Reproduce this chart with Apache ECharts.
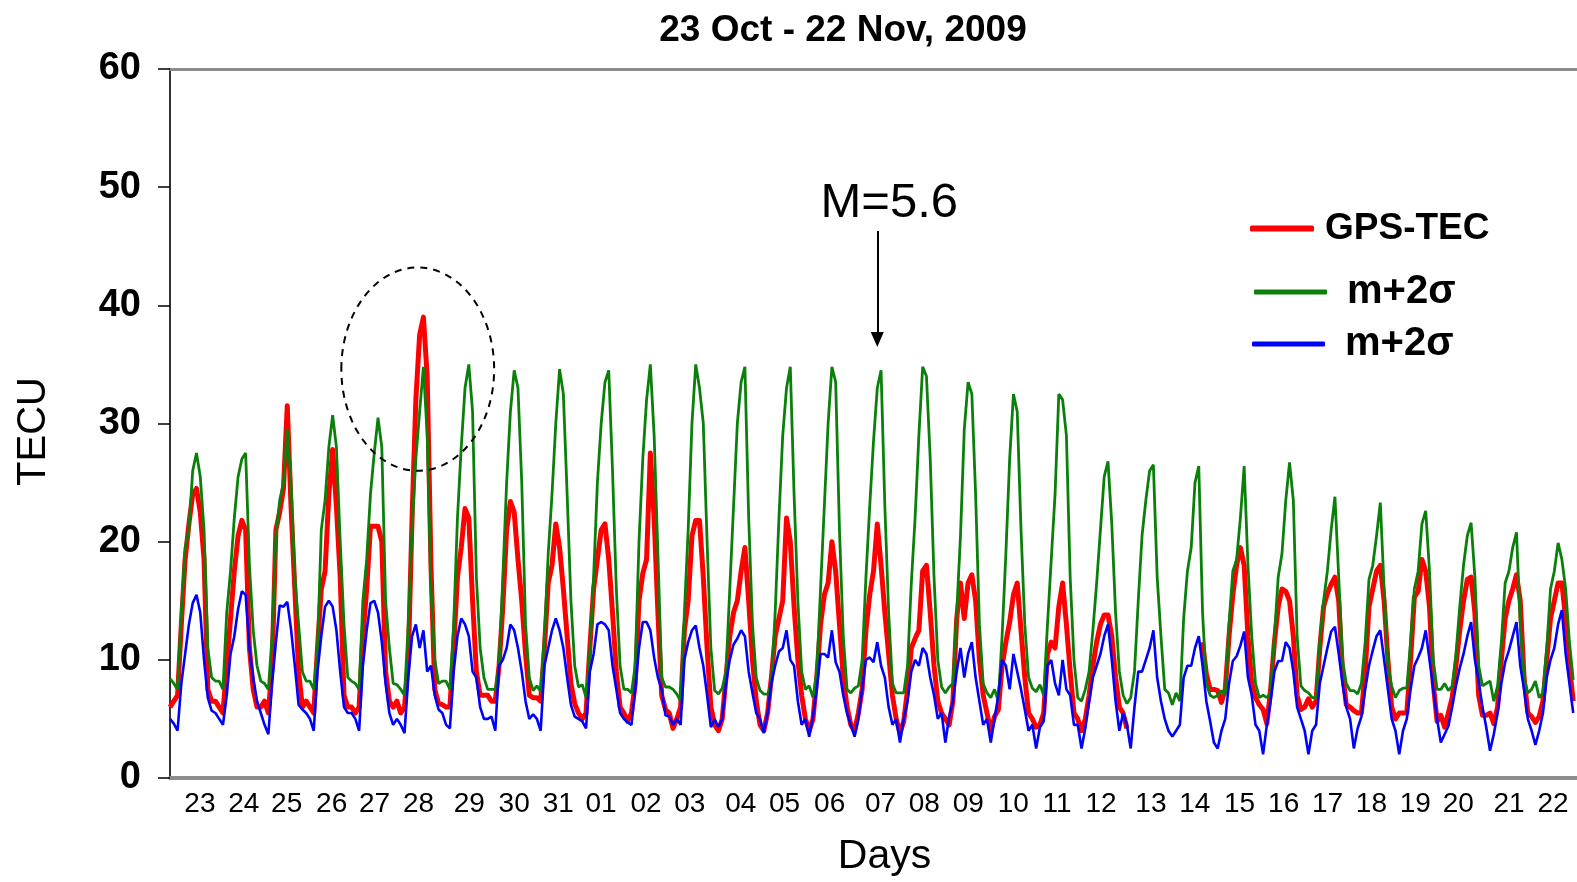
<!DOCTYPE html>
<html>
<head>
<meta charset="utf-8">
<script src="https://cdn.jsdelivr.net/npm/echarts/dist/echarts.min.js"></script>
<style>
html,body{margin:0;padding:0;background:#fff;}
#chart{width:1577px;height:882px;}
</style>
</head>
<body>
<div id="chart"></div>
<script>
// ---------- DATA ----------
const titleText = '23 Oct - 22 Nov, 2009';
const dayLabels = ['23','24','25','26','27','28','29','30','31','01','02','03','04','05','06','07','08','09','10','11','12','13','14','15','16','17','18','19','20','21','22'];
// hour (from 00 h, 23 Oct) at which each day label is printed
const labelHours = [15.8,39.0,61.7,85.5,108.2,131.4,158.3,182.0,205.3,227.9,251.7,274.9,301.8,325.0,348.8,375.7,398.9,422.1,445.9,469.1,492.3,518.7,541.9,565.6,588.9,612.1,635.3,658.5,681.2,708.1,731.3];
const yTicks = [0,10,20,30,40,50,60];
const stepHours = 2; // one sample every 2 hours, 12 per day

// GPS-TEC (red), 12 values per day
const tec = [
  6,6.5,7,13,18.5,21.5,24,24.5,22.5,18.5,7.5,6.5,          // 23
  6.5,6,5.5,9.5,13.5,17.5,20.5,21.8,21,11,7.5,6,           // 24
  6,6.5,5.5,9.5,21,22.5,24.5,31.5,23,16,9,6,               // 25
  6.5,6,5.5,11,16,17.5,24,27.8,23,17,7,6,                  // 26
  6,5.5,6,12,16,21.3,21.3,21.3,20,9,6.5,6,                 // 27
  6.5,5.5,6,10,22,32,37.5,39,34,18,7.5,6.3,                // 28
  6.2,6,6,11,17,19.5,22.8,22,15,9,7,7,                     // 29
  7,6.5,6.5,9.5,14.5,21,23.4,22.5,18.5,15,10.5,7,          // 30
  6.8,6.8,6.5,11,16.5,18,21.5,19.5,16,12,8,6.3,            // 31
  5.5,5,5.5,11,16,18.5,21,21.5,18.5,14,9,6,                // 01
  5.5,4.8,5.5,8,15,17.3,18.5,27.5,22,14,7,5.8,             // 02
  5.5,4.2,5,6,12.5,15,20.5,21.8,21.8,17,11,6,              // 03
  4.5,4,5,8.5,12,14,15,17.5,19.5,15,10,6.5,                // 04
  4.5,4,5.5,8.5,12,13.5,15,22,20,14.5,10,7,                // 05
  5,4,5,8.5,13,15.5,16.5,20,17.5,13,8.5,6,                 // 06
  4.5,4,5.5,7.5,12.5,15.5,17.5,21.5,18,14,10.5,7,          // 07
  5,3.8,4.8,7.5,11,11.8,12.5,17.5,18,14,9.5,6.5,           // 08
  5.5,5,4.5,6.5,13.5,16.5,13.5,16.5,17.2,15,10,7,          // 09
  5.5,4,5.2,5.8,9.5,11.5,13.2,15.5,16.5,12.5,8.5,5.5,      // 10
  5,4.3,4.5,5.5,10.5,11.5,11,14.5,16.5,13,9,5.5,           // 11
  5,4,5,7,9.5,11.5,13,13.8,13.8,12,8.5,6,                  // 12
  5.5,4.2,null,null,null,null,null,null,null,null,null,null, // 13
  null,null,null,null,null,null,null,null,null,11.5,8.8,7.5, // 14
  7.5,7.4,6.4,7.5,12,15.5,18,19.5,18,12,8,6.8,             // 15
  6.2,5.8,4.6,7.5,11.5,14.5,16,15.8,15,12,7,5.8,           // 16
  6,6.7,6,6.5,11,14.5,15.6,16.4,17,15,9,6.2,               // 17
  6,5.7,5.5,5.5,9,14.5,16,17.5,18,15,10,6,                 // 18
  5,5.5,5.5,5.5,10,15.3,15.8,18.5,17.5,14.5,8,4.8,         // 19
  5.3,4.3,5.5,6.8,9.5,12.5,15,16.8,17,14,7,5.3,            // 20
  5.3,5.5,4.6,6,10,13.5,15,16,17.2,15,8.5,5.5,             // 21
  5.2,4.7,5.2,6.5,10,13.5,15,16.5,16.5,13.5,9.5,6.5        // 22
];

// m+2sigma (green)
const upper = [
  8.4,8,7.5,14,19.5,21,26,27.5,25.5,21,11,8.5,             // 23
  8.2,8.2,7.5,14,17.5,22,25.5,27,27.5,18,12.5,9.5,         // 24
  8.2,8,7.5,12,20.5,23.5,25,29.5,25,17,13,9,               // 25
  8.2,8.2,7.5,11,21,23.5,28,30.7,28,20,13,8.5,             // 26
  8.2,8,7.5,15,18.5,24,27.5,30.5,28,15,11,8,               // 27
  7.9,7.5,7,13,21,27,31,34.8,29,16,10,8,                   // 28
  8.2,8.2,7.5,13,22,28,33,35,31,17,11,8.5,                 // 29
  7.5,7.5,7.5,9.5,17,25,31,34.5,33,25,13,8.5,              // 30
  7.4,7.8,7.3,12,19,24,30,34.6,32.5,24,15,9.5,             // 31
  7.7,7.9,6.8,10.5,17,25,30,33.5,34.5,26,16,9.5,           // 01
  7.5,7.5,7.2,9.5,20,27,32,35,29,19,8.5,7.7,               // 02
  7.7,7.5,7.1,6.5,14,21,30,35,33,30,20,11,                 // 03
  7.4,7.1,7.6,9,16,23,30,33.5,34.8,22,13,8.5,              // 04
  7.4,7.1,7.1,8,14,22,29,33,34.8,24,15,9,                  // 05
  7.5,7.8,6.8,9,16,23,30,34.8,33.5,21,12,7.5,              // 06
  7.2,7.6,7.8,10,17,23,28.5,33,34.5,23,14,8,               // 07
  7.2,7.2,7.2,9.5,16.5,22,29,34.8,34,27,17,10,             // 08
  7.7,7.2,7.7,8,14,20.5,29.5,33.5,32.5,24,13,8,            // 09
  7.2,6.8,7.5,6.5,12,19,27,32.5,31,21,13,8.5,              // 10
  7.6,7.3,7.9,7,13,18.5,24,32.5,32,29,17,10,               // 11
  6.8,6.5,7.5,9,12.5,16.5,21,25.5,26.8,21.5,14,9,          // 12
  7,6.3,6.8,9,15,20.5,23.5,26,26.5,17,12,7.5,              // 13
  7.2,6.2,7.2,6.5,13.5,17.5,19.5,25,26.4,14,8,7,           // 14
  6.8,7,7.4,7,13,17.5,18.5,22,26.4,18,12,8,                // 15
  6.8,7,6.8,7.2,12,17,19,23.5,26.7,23.5,12,7.8,            // 16
  7.4,7.2,6.8,6.8,11.5,15,17.5,21,23.8,17,10,8,            // 17
  7.4,7.4,7.1,8,11.5,16.8,18,20.5,23.3,16,9.5,7.8,         // 18
  6.8,7.4,7.6,7.6,11.5,16,17.5,21.5,22.6,17.5,10,7.5,      // 19
  7.5,8,7.4,7.8,10.5,14.5,18,20.5,21.6,17,9.5,7.8,         // 20
  8,8.2,6.5,7.8,11.5,16.5,17.5,19.5,20.8,13,8.5,7.2,       // 21
  7.5,8.2,6.8,7.2,11,16,17.5,19.9,18.5,16,11.5,8.3         // 22
];

// second band line (blue), legend text as printed: m+2sigma
const lower = [
  5,4.6,4,8,10.5,13,14.8,15.5,14,10,6.8,5.7,               // 23
  5.5,5,4.5,7,10.5,12,14.3,15.8,15.5,11,8.5,6.5,           // 24
  5.5,4.5,3.7,8,11.5,14.6,14.5,14.9,12.6,9.5,6.2,5.8,      // 25
  5.5,5,4,9,12,14.5,15,14.5,12.5,9,6,5.5,                  // 26
  5.5,5,4,9.5,12.5,14.8,15,14,11.5,8,5.5,4.5,              // 27
  5,4.5,3.8,8.5,12,13,11,12.5,9,9.5,7,5.8,                 // 28
  5.5,4.5,4.2,9,12,13.5,13,12,9,8.5,6,5,                   // 29
  5,5.2,4,9.5,10,11,13,12.5,11,9,6.5,5,                    // 30
  5.4,5,4,9.5,11,12.5,13.5,12.5,11,8.5,6.2,5.2,            // 31
  5,4.8,4.2,9,10.5,13,13.2,13,12.5,9.5,7.5,5.5,            // 01
  5,4.7,4.5,7.5,11,13.2,13.2,12.5,10.2,8.5,7.5,5.3,        // 02
  5.2,4.5,5,4.5,10,11.5,12.5,12.9,11,9.5,7,4.3,            // 03
  5,4.3,5,8,10,11.3,11.8,12.5,12,9,7.2,5.5,                // 04
  5,3.8,5.5,8,9.5,10.7,11,12.5,10,9.5,6.5,4.5,             // 05
  5,3.5,5.2,7.5,10.5,10.5,10.2,12.5,9.8,9,7,5.5,           // 06
  4.5,3.5,5,7.5,10,10.2,9.8,11.5,9.5,8.5,6,4.5,            // 07
  5,3,5,6.5,9,10,9.5,11,10.5,8.5,7,5,                      // 08
  5.5,3,5.2,6.5,9,11,8.5,10.5,11.5,8.5,6.5,4.5,            // 09
  5,3,5,7,10,9.5,7.5,10.5,9,7.5,5.8,4,                     // 10
  4.5,2.5,4.3,4.8,9.5,10,8,7,10,7.5,7,4.5,                 // 11
  4.5,2.5,4.2,6.5,8.5,9.5,10.5,12,13,10,6.5,4,             // 12
  5.5,4.5,2.5,6,9,9,10,11,12.5,8.5,6.5,5,                  // 13
  4,3.5,4,4.5,8.5,9.5,9.5,11,12,9.5,6.5,4.8,               // 14
  3,2.5,4,5,8,9.9,10.3,11.2,12.4,8.5,7,4.5,                // 15
  4,2,4.5,6.5,9,9.9,9.9,11.5,11,9,6,5,                     // 16
  4,2,4,4.5,8,9.5,11,12.4,12.8,10.5,8,6,                   // 17
  5,2.5,4.2,5.2,7.5,9.5,10.8,12,12.5,10,7.5,5,             // 18
  4,2,4,5,7.5,9.5,10.2,11,12.5,10,7.5,5,                   // 19
  3,3.7,4.4,6,7.8,9.3,10.5,12,13.2,10,8.2,6,               // 20
  4.3,2.3,3.7,5.5,8,9.8,10.8,12,13.2,9.5,7.5,5,            // 21
  4,2.8,4,5.5,8.5,10,11,13,14.2,10.5,8,5.5                 // 22
];

// annotations (data space)
const quakeLabel = 'M=5.6';
const quakeHour = 374;          // 07 Nov
const quakeArrow = [46.3, 37.1]; // TECU, arrow top -> tip
const anomalyCenter = [131, 34.6];   // hour, TECU
const anomalyRadius = [40.4, 8.6];   // hours, TECU

// ---------- CHART ----------
const SANS = "'Liberation Sans',Arial,Helvetica,sans-serif";
const toXY = arr => arr.map((v, i) => [i * stepHours, v]);

const chart = echarts.init(document.getElementById('chart'), null, {renderer: 'canvas'});

const option = {
  backgroundColor: '#fff',
  animation: false,
  title: {
    text: titleText,
    left: 838, top: 7, textAlign: 'center',
    textStyle: {fontFamily: SANS, fontWeight: 'bold', fontSize: 37, color: '#000'}
  },
  grid: {left: 170, top: 69, width: 1410, height: 717},
  legend: [
    {data: ['GPS-TEC'], left: 1250, top: 210, padding: 0, icon: 'roundRect',
     itemWidth: 64, itemHeight: 6, selectedMode: false,
     textStyle: {fontFamily: SANS, fontWeight: 'bold', fontSize: 37, color: '#000', padding: [0,0,0,6]}},
    {data: ['m+2σ'], left: 1254, top: 272, padding: 0, icon: 'roundRect',
     itemWidth: 73, itemHeight: 5, selectedMode: false,
     textStyle: {fontFamily: SANS, fontWeight: 'bold', fontSize: 40, color: '#000', padding: [0,0,0,15]}},
    {data: ['m+2σ '], left: 1252, top: 324, padding: 0, icon: 'roundRect',
     itemWidth: 73, itemHeight: 5, selectedMode: false,
     formatter: () => 'm+2σ',
     textStyle: {fontFamily: SANS, fontWeight: 'bold', fontSize: 40, color: '#000', padding: [0,0,0,15]}}
  ],
  xAxis: [
    {
      type: 'value', min: 0, max: 744, position: 'bottom',
      name: 'Days', nameLocation: 'middle', nameGap: 58,
      nameTextStyle: {fontFamily: SANS, fontSize: 41, color: '#000', padding: [0,0,0,22]},
      axisLine: {show: true, lineStyle: {color: '#8c8c8c', width: 4}},
      axisTick: {show: false},
      splitLine: {show: false},
      axisLabel: {
        customValues: labelHours,
        formatter: v => dayLabels[labelHours.indexOf(v)] || '',
        fontFamily: SANS, fontSize: 28, color: '#000', margin: 12
      }
    },
    {
      type: 'value', min: 0, max: 744, position: 'top',
      axisLine: {show: true, lineStyle: {color: '#8c8c8c', width: 3}},
      axisTick: {show: false}, axisLabel: {show: false}, splitLine: {show: false}
    }
  ],
  yAxis: {
    type: 'value', min: 0, max: 60, interval: 10,
    name: 'TECU', nameLocation: 'middle', nameGap: 116, nameRotate: 90,
    nameTextStyle: {fontFamily: SANS, fontSize: 40, color: '#000', padding: [0, 16, 0, 0]},
    axisLine: {show: true, lineStyle: {color: '#333', width: 2}},
    axisTick: {show: true, length: 12, lineStyle: {color: '#000', width: 1.5}},
    axisLabel: {fontFamily: SANS, fontWeight: 'bold', fontSize: 38, color: '#000', margin: 29},
    splitLine: {show: false}
  },
  series: [
    {name: 'GPS-TEC', type: 'line', data: toXY(tec), symbol: 'none', connectNulls: false,
     lineStyle: {color: '#ff0000', width: 5, join: 'round'}, itemStyle: {color: '#ff0000'}, z: 2},
    {name: 'm+2σ', type: 'line', data: toXY(upper), symbol: 'none',
     lineStyle: {color: '#0a800a', width: 2.8}, itemStyle: {color: '#0a800a'}, z: 3,
     markLine: {
       silent: true, symbol: ['none', 'triangle'], symbolSize: [13, 15],
       label: {show: false},
       lineStyle: {color: '#000', width: 2, type: 'solid'},
       data: [[{coord: [quakeHour, quakeArrow[0]]}, {coord: [quakeHour, quakeArrow[1]]}]]
     }},
    {name: 'm+2σ ', type: 'line', data: toXY(lower), symbol: 'none',
     lineStyle: {color: '#0000ff', width: 2.6}, itemStyle: {color: '#0000ff'}, z: 4}
  ]
};
chart.setOption(option);

// annotation graphics anchored to data coordinates
const c = chart.convertToPixel({gridIndex: 0}, anomalyCenter);
const e = chart.convertToPixel({gridIndex: 0}, [anomalyCenter[0] + anomalyRadius[0], anomalyCenter[1] + anomalyRadius[1]]);
const q = chart.convertToPixel({gridIndex: 0}, [quakeHour, quakeArrow[0]]);
chart.setOption({
  graphic: [
    {type: 'ellipse', shape: {cx: c[0], cy: c[1], rx: e[0] - c[0], ry: c[1] - e[1]},
     style: {fill: 'none', stroke: '#000', lineWidth: 2, lineDash: [7, 6]}, z: 10, silent: true},
    {type: 'text', x: q[0] + 12, y: q[1] - 27,
     style: {text: quakeLabel, fontFamily: SANS, fontSize: 49, fill: '#000', align: 'center', verticalAlign: 'middle'}, z: 10}
  ]
});
</script>
</body>
</html>
